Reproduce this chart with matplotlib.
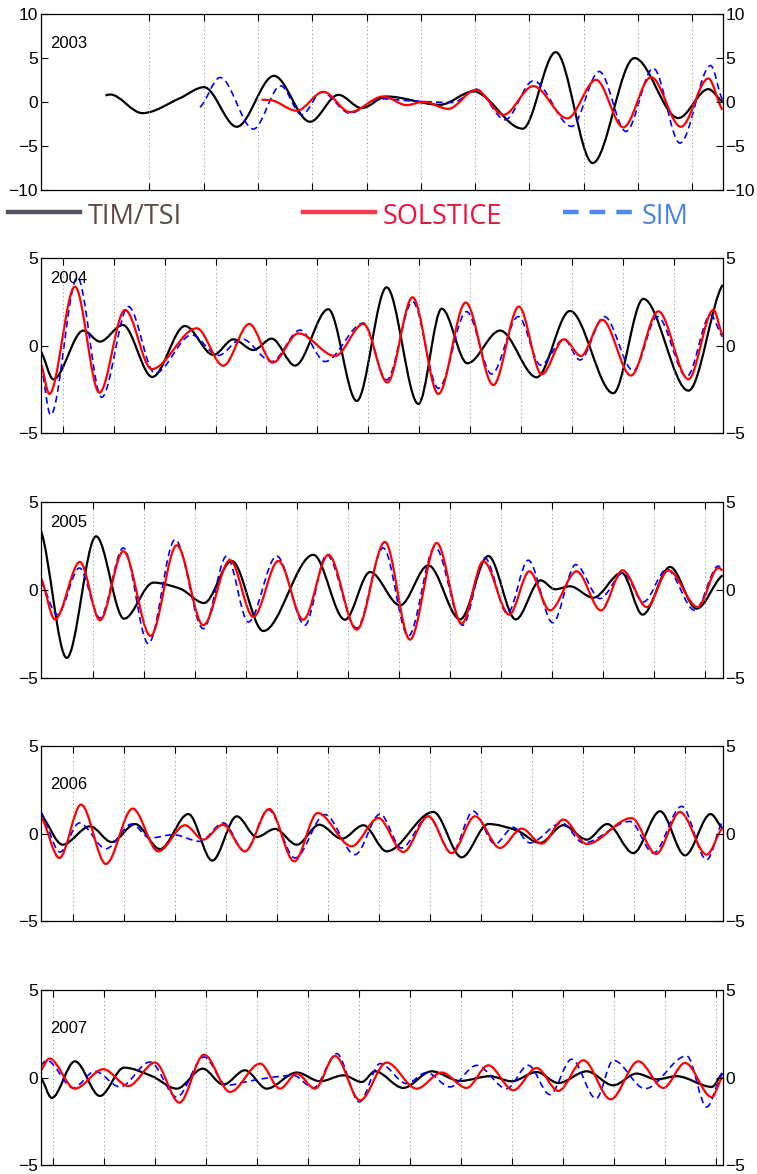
import matplotlib.pyplot as plt
from matplotlib.path import Path
from matplotlib.patches import PathPatch
from matplotlib.lines import Line2D
import numpy as np

# values: (day of year, irradiance variation) at turning points
years = ['2003', '2004', '2005', '2006', '2007']

tim_2003_day = [34.6, 37.1, 54.4, 74.5, 87.4, 104.9, 124.8, 144.1, 159.3, 171.8, 185.1, 213.7, 231.5, 257.9, 275.6, 295.4, 317.7, 341.2, 357.3, 364.9]
tim_2003_val = [0.74, 0.85, -1.27, 0.43, 1.68, -2.82, 2.97, -2.25, 0.81, -0.70, 0.62, -0.32, 1.19, -3.04, 5.66, -6.94, 4.99, -1.83, 1.46, 0.06]
sol_2003_day = [118.2, 123.0, 137.0, 151.3, 165.5, 183.3, 195.8, 204.7, 218.1, 232.9, 247.6, 263.6, 281.8, 297.2, 311.8, 326.6, 342.6, 357.3, 364.9]
sol_2003_val = [0.25, 0.20, -1.0, 1.15, -1.15, 0.62, -0.36, 0.02, -0.78, 1.38, -1.46, 1.80, -1.87, 2.51, -2.89, 2.82, -2.82, 2.67, -0.89]
sim_2003_day = [85.2, 96.0, 113.8, 128.4, 139.7, 150.4, 165.5, 181.6, 199.4, 220.8, 232.9, 248.5, 263.6, 284.1, 298.9, 313.2, 327.8, 342.1, 358.5, 364.9]
sim_2003_val = [-0.59, 2.78, -3.08, 1.83, -1.46, 1.12, -1.27, 0.36, 0.10, -0.06, 1.46, -2.02, 2.40, -2.78, 3.46, -3.35, 3.84, -4.67, 4.14, 0.25]

tim_2004_day = [0, 6.7, 22.8, 31.7, 43.9, 59.7, 77.2, 92.4, 103.1, 113.8, 123.6, 136.1, 153.9, 169.1, 185.1, 202.1, 214.6, 228.3, 245.8, 265.4, 283.2, 306.4, 322.5, 346.6, 364.9]
tim_2004_val = [-0.33, -1.91, 0.87, 0.24, 1.19, -1.78, 1.13, -0.52, 0.37, -0.24, 0.41, -1.13, 2.09, -3.15, 3.34, -3.32, 2.12, -1.0, 0.87, -1.8, 1.99, -2.71, 2.68, -2.56, 3.48]
sol_2004_day = [0, 4.6, 18.3, 31.4, 45.1, 59.4, 83.5, 97.7, 111.6, 124.1, 137.9, 157.5, 172.7, 185.5, 199.0, 212.8, 227.4, 242.2, 255.9, 268.1, 280.0, 289.1, 300.5, 315.9, 330.5, 346.6, 360.0, 364.9]
sol_2004_val = [-1.0, -2.75, 3.38, -2.68, 2.05, -1.33, 1.0, -1.14, 1.25, -0.96, 0.71, -0.58, 1.25, -2.1, 2.77, -2.75, 2.47, -2.24, 2.24, -1.63, 0.37, -0.58, 1.48, -1.70, 1.97, -1.91, 2.05, 0.62]
sim_2004_day = [0, 5.3, 19.6, 32.6, 46.9, 61.2, 80.8, 95.0, 107.5, 123.6, 138.8, 152.1, 172.7, 185.1, 199.0, 212.8, 227.9, 241.3, 255.6, 267.5, 280.0, 288.6, 301.6, 317.1, 330.0, 345.7, 358.5, 364.9]
sim_2004_val = [-1.1, -3.95, 3.91, -2.94, 2.24, -1.57, 0.62, -0.55, 0.4, -0.9, 0.9, -0.9, 1.3, -1.95, 2.52, -2.43, 1.95, -1.61, 1.67, -1.1, 0.37, -0.81, 1.67, -1.42, 1.67, -1.76, 1.76, 0.52]

tim_2005_day = [0, 13.9, 29.6, 44.6, 60.3, 74.5, 87.4, 102.2, 119.1, 145.9, 162.8, 176.2, 192.3, 207.4, 224.4, 239.5, 254.2, 267.5, 275.2, 283.2, 295.7, 310.9, 322.1, 336.8, 351.0, 364.9]
tim_2005_val = [3.39, -3.86, 3.05, -1.63, 0.42, 0.08, -0.74, 1.65, -2.33, 2.0, -1.69, 1.02, -0.87, 1.40, -1.67, 1.93, -1.67, 0.55, 0.04, 0.21, -0.44, 0.98, -1.40, 1.31, -1.06, 0.83]
sol_2005_day = [0, 7.6, 21.0, 31.7, 44.2, 58.8, 72.8, 87.0, 101.3, 113.8, 127.2, 140.5, 153.9, 169.1, 184.2, 197.6, 211.9, 225.3, 236.9, 250.8, 261.5, 272.5, 286.8, 299.8, 311.4, 324.3, 335.9, 351.6, 362.6, 364.9]
sol_2005_val = [0.68, -1.67, 1.59, -1.72, 2.2, -2.61, 2.54, -2.0, 1.69, -1.53, 1.65, -1.69, 2.0, -2.25, 2.73, -2.82, 2.67, -1.91, 1.63, -1.40, 1.06, -1.16, 1.06, -1.16, 1.12, -0.97, 1.12, -0.97, 1.25, 1.12]
sim_2005_day = [0, 8.9, 20.7, 31.7, 44.2, 57.6, 71.9, 87.0, 99.5, 111.1, 126.3, 141.4, 153.0, 169.1, 183.3, 196.7, 211.0, 225.8, 237.7, 249.7, 260.9, 274.0, 286.3, 299.3, 311.8, 322.5, 335.0, 350.1, 362.6, 364.9]
sim_2005_val = [0.45, -1.40, 1.25, -1.59, 2.39, -3.05, 2.86, -2.2, 1.93, -1.82, 1.93, -2.0, 2.0, -2.16, 2.39, -2.61, 2.44, -2.0, 1.82, -1.34, 1.69, -1.86, 1.44, -0.49, 0.98, -0.68, 1.17, -1.16, 1.36, 1.12]

tim_2006_day = [0, 11.7, 26.4, 38.0, 50.5, 63.8, 79.0, 91.8, 104.9, 115.6, 125.4, 137.0, 149.1, 161.1, 172.7, 185.1, 210.1, 225.3, 239.5, 254.7, 267.2, 279.7, 292.2, 303.2, 317.1, 331.4, 344.8, 358.5, 364.9]
tim_2006_val = [1.06, -0.62, 0.43, -0.47, 0.56, -0.87, 1.13, -1.53, 1.0, -0.18, 0.28, -0.62, 0.52, -0.28, 0.49, -1.0, 1.25, -1.34, 0.56, 0.2, -0.52, 0.49, -0.33, 0.56, -1.1, 1.29, -1.23, 1.13, 0.33]
sol_2006_day = [0, 10.0, 21.6, 34.9, 49.2, 62.9, 77.2, 87.0, 97.4, 109.3, 122.3, 135.7, 148.2, 166.4, 180.7, 194.0, 207.4, 219.9, 232.4, 245.8, 257.4, 268.1, 279.7, 292.2, 316.2, 329.3, 342.1, 356.4, 364.9]
sol_2006_val = [1.0, -1.38, 1.67, -1.72, 1.44, -1.0, 0.49, -0.33, 0.52, -1.0, 1.42, -1.57, 1.19, -0.71, 0.9, -1.04, 1.0, -1.1, 1.0, -0.81, 0.3, -0.56, 0.81, -0.58, 0.9, -1.15, 1.25, -1.19, 0.33]
sim_2006_day = [0, 10.3, 20.7, 34.9, 48.7, 58.5, 71.0, 85.2, 97.7, 109.3, 121.8, 136.1, 152.1, 168.2, 181.6, 193.1, 207.4, 219.9, 231.5, 243.1, 252.9, 261.8, 278.8, 290.4, 315.4, 327.8, 343.0, 356.4, 364.9]
sim_2006_val = [1.25, -1.04, 0.62, -0.85, 0.56, -0.24, -0.05, -0.43, 0.62, -1.0, 1.38, -1.38, 1.10, -1.19, 1.13, -0.81, 1.0, -1.1, 1.29, -0.58, 0.37, -0.52, 0.62, -0.52, 0.71, -1.1, 1.57, -1.48, 0.68]

tim_2007_day = [0, 5.9, 18.3, 31.7, 44.6, 59.4, 72.8, 86.7, 97.7, 109.3, 120.9, 137.0, 149.5, 162.0, 171.8, 178.9, 194.0, 209.2, 224.4, 240.4, 252.0, 265.4, 277.0, 292.2, 306.4, 318.9, 329.6, 340.3, 359.1, 364.9]
tim_2007_val = [0.0, -1.15, 0.94, -1.04, 0.58, 0.1, -0.62, 0.52, -0.39, 0.43, -0.62, 0.3, -0.2, 0.14, -0.24, 0.37, -0.58, 0.37, -0.18, 0.09, -0.2, 0.33, -0.3, 0.37, -0.43, 0.24, -0.09, 0.09, -0.52, 0.24]
sol_2007_day = [0, 4.6, 18.3, 33.5, 46.9, 61.2, 74.2, 87.4, 101.3, 117.4, 128.1, 137.0, 146.8, 157.5, 170.9, 185.1, 201.2, 214.6, 227.9, 239.5, 252.9, 265.4, 277.0, 290.4, 305.0, 319.8, 333.2, 344.8, 359.1, 364.9]
sol_2007_val = [0.43, 1.1, -0.62, 0.49, -0.47, 0.87, -1.42, 1.32, -0.81, 0.81, -0.62, 0.24, -0.62, 1.25, -1.29, 0.87, -0.62, 0.3, -0.58, 0.71, -0.71, 0.56, -0.75, 1.0, -1.23, 0.94, -0.58, 0.85, -1.1, 0.05]
sim_2007_day = [0, 3.2, 17.4, 29.0, 42.4, 58.5, 72.8, 87.4, 99.5, 111.1, 122.0, 135.2, 145.9, 158.4, 170.5, 181.6, 195.8, 206.5, 219.0, 233.3, 249.3, 260.9, 272.5, 284.1, 297.2, 306.4, 323.4, 345.7, 356.4, 364.9]
sim_2007_val = [0.71, 1.0, -0.58, 0.37, -0.52, 0.9, -1.1, 1.19, -0.43, -0.2, 0.0, 0.14, -0.58, 1.38, -1.38, 0.81, -0.33, 0.3, -0.52, 0.71, -0.62, 0.71, -0.96, 1.06, -1.19, 1.0, -0.62, 1.25, -1.67, 0.33]

tim_days = [tim_2003_day, tim_2004_day, tim_2005_day, tim_2006_day, tim_2007_day]
tim_vals = [tim_2003_val, tim_2004_val, tim_2005_val, tim_2006_val, tim_2007_val]
sol_days = [sol_2003_day, sol_2004_day, sol_2005_day, sol_2006_day, sol_2007_day]
sol_vals = [sol_2003_val, sol_2004_val, sol_2005_val, sol_2006_val, sol_2007_val]
sim_days = [sim_2003_day, sim_2004_day, sim_2005_day, sim_2006_day, sim_2007_day]
sim_vals = [sim_2003_val, sim_2004_val, sim_2005_val, sim_2006_val, sim_2007_val]

# rotation markers (dotted verticals): first day and spacing
grid_start = [58.1, 11.8, 27.8, 17.1, 6.7]
grid_step = [29.06, 27.25, 27.3, 27.3, 27.3]
ylims = [10, 5, 5, 5, 5]


def smooth_path(xs, ys):
    # monotone cubic through the turning points, drawn as bezier segments
    xs = np.asarray(xs, float)
    ys = np.asarray(ys, float)
    h = np.diff(xs)
    d = np.diff(ys) / h
    m = np.zeros(len(xs))
    for i in range(1, len(xs) - 1):
        if d[i - 1] * d[i] > 0:
            w1 = 2 * h[i] + h[i - 1]
            w2 = h[i] + 2 * h[i - 1]
            m[i] = (w1 + w2) / (w1 / d[i - 1] + w2 / d[i])
    m[0] = d[0] * 0.5
    m[-1] = d[-1] * 0.5
    verts = [(xs[0], ys[0])]
    codes = [Path.MOVETO]
    for i in range(len(xs) - 1):
        verts.append((xs[i] + h[i] / 3, ys[i] + m[i] * h[i] / 3))
        verts.append((xs[i + 1] - h[i] / 3, ys[i + 1] - m[i + 1] * h[i] / 3))
        verts.append((xs[i + 1], ys[i + 1]))
        codes += [Path.CURVE4] * 3
    return Path(verts, codes)


fig = plt.figure(figsize=(7.57, 11.74), dpi=100)
plt.rcParams['font.family'] = ['Liberation Sans', 'DejaVu Sans']

ax_rects = [[0.0538, 0.8382, 0.9010, 0.1499],
            [0.0538, 0.6309, 0.9010, 0.1491],
            [0.0538, 0.4225, 0.9010, 0.1499],
            [0.0538, 0.2152, 0.9010, 0.1491],
            [0.0538, 0.0074, 0.9010, 0.1491]]
year_y = [0.807, 0.857, 0.858, 0.758, 0.758]

for k in range(5):
    ax = fig.add_axes(ax_rects[k])
    ax.set_xlim(0, 365)
    ax.set_ylim(-ylims[k], ylims[k])
    ax.set_xticks(np.arange(grid_start[k], 365, grid_step[k]))
    ax.set_yticks(np.arange(-ylims[k], ylims[k] + 1, 5))
    ax.grid(axis='x', color='#888888', linestyle=(0, (1, 3)), linewidth=0.7)
    ax.tick_params(axis='x', direction='in', top=True, bottom=True, labelbottom=False, length=5, width=0.8)
    ax.tick_params(axis='y', direction='in', left=True, right=True, labelleft=True, labelright=True,
                   length=5, width=0.8, labelsize=12.5, pad=2)
    for s in ax.spines.values():
        s.set_linewidth(0.9)

    ax.add_patch(PathPatch(smooth_path(tim_days[k], tim_vals[k]), fill=False, edgecolor='black', lw=1.6))
    ax.add_patch(PathPatch(smooth_path(sim_days[k], sim_vals[k]), fill=False, edgecolor='#0000ff', lw=1.2,
                           linestyle=(0, (4, 2.5))))
    ax.add_patch(PathPatch(smooth_path(sol_days[k], sol_vals[k]), fill=False, edgecolor='#ff0000', lw=1.6))

    ax.text(0.0136, year_y[k], years[k], transform=ax.transAxes, fontsize=12, va='baseline', ha='left')

# legend drawn between the first two panels
ly = 1 - 211.5 / 1174
ty = 1 - 223.5 / 1174
fig.add_artist(Line2D([8 / 757, 80 / 757], [ly, ly], color='#55555f', lw=3.2))
fig.text(88 / 757, ty, 'TIM/TSI', color='#5b4b44', fontsize=19.5, family='Open Sans', va='baseline')
fig.add_artist(Line2D([303 / 757, 375 / 757], [ly, ly], color='#f53a4c', lw=3.2))
fig.text(383 / 757, ty, 'SOLSTICE', color='#f0103c', fontsize=19.5, family='Open Sans', va='baseline')
fig.add_artist(Line2D([563 / 757, 633 / 757], [ly, ly], color='#4d88f0', lw=3.2, linestyle=(0, (3.5, 2.5))))
fig.text(642 / 757, ty, 'SIM', color='#4a80ea', fontsize=19.5, family='Open Sans', va='baseline')

fig.savefig('out.png', dpi=100)
